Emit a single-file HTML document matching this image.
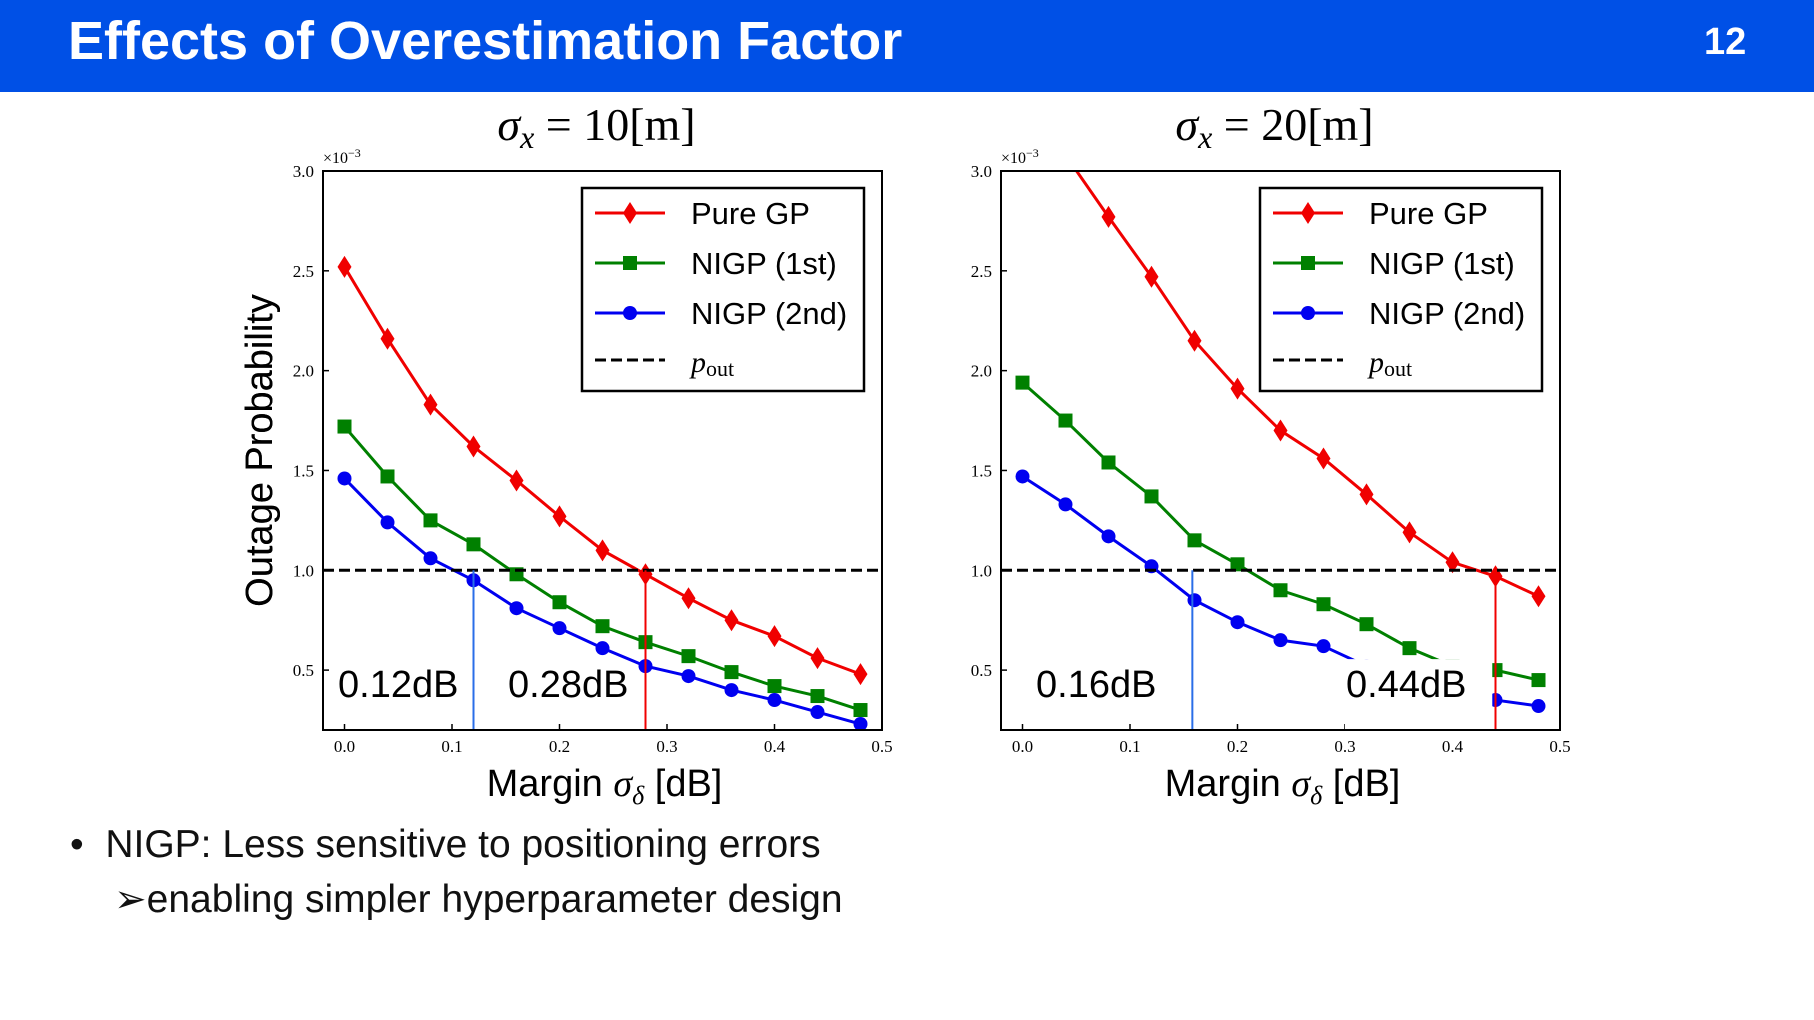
<!DOCTYPE html>
<html><head><meta charset="utf-8"><style>
body{margin:0;width:1814px;height:1020px;background:#fff;overflow:hidden;font-family:"Liberation Sans",sans-serif;position:relative}
#hdr{position:absolute;left:0;top:0;width:1814px;height:92px;background:#0050e6}
#ttl{position:absolute;left:68px;top:9px;color:#fff;font-weight:bold;font-size:54px;line-height:64px}
#num{position:absolute;left:1704px;top:18px;color:#fff;font-weight:bold;font-size:38px;line-height:48px}
.b{position:absolute;font-size:39px;color:#111;line-height:44px}
</style></head><body>
<div id="hdr"></div>
<div id="ttl">Effects of Overestimation Factor</div>
<div id="num">12</div>
<svg id="svg" width="1814" height="1020" style="position:absolute;left:0;top:0"></svg>
<div class="b" style="left:70px;top:823px">•&nbsp;&nbsp;NIGP: Less sensitive to positioning errors</div>
<div class="b" style="left:114px;top:878px">➢enabling simpler hyperparameter design</div>
<script>
const xs=[0,0.04,0.08,0.12,0.16,0.2,0.24,0.28,0.32,0.36,0.4,0.44,0.48];
const red1=[2.52,2.16,1.83,1.62,1.45,1.27,1.10,0.98,0.86,0.75,0.67,0.56,0.48];
const green1=[1.72,1.47,1.25,1.13,0.98,0.84,0.72,0.64,0.57,0.49,0.42,0.37,0.30];
const blue1=[1.46,1.24,1.06,0.95,0.81,0.71,0.61,0.52,0.47,0.40,0.35,0.29,0.23];
const red2=[3.4,3.08,2.77,2.47,2.15,1.91,1.70,1.56,1.38,1.19,1.04,0.97,0.87];
const green2=[1.94,1.75,1.54,1.37,1.15,1.03,0.90,0.83,0.73,0.61,0.52,0.50,0.45];
const blue2=[1.47,1.33,1.17,1.02,0.85,0.74,0.65,0.62,0.52,0.46,0.40,0.35,0.32];
const xTicks=[0,0.1,0.2,0.3,0.4,0.5];
const xTickLabels=["0.0","0.1","0.2","0.3","0.4","0.5"];
const yTicks=[0.5,1.0,1.5,2.0,2.5,3.0];
const yTickLabels=["0.5","1.0","1.5","2.0","2.5","3.0"];
const pOut=1.0;
const marks1=[0.12,0.28];
const marks2=[0.158,0.44];
const labels1=["0.12dB","0.28dB"];
const labels2=["0.16dB","0.44dB"];

const svg=document.getElementById('svg');
const NS='http://www.w3.org/2000/svg';
function mk(t,a,p){const e=document.createElementNS(NS,t);for(const k in a)e.setAttribute(k,a[k]);(p||svg).appendChild(e);return e;}

function chart(ox,id,title,red,green,blue,marks,labels,occlude){
  const L=ox,R=ox+559,T=171,B=730;
  const xmin=-0.02,xmax=0.5,ymin=0.2,ymax=3.0;
  const X=v=>L+(v-xmin)/(xmax-xmin)*(R-L);
  const Y=v=>B-(v-ymin)/(ymax-ymin)*(B-T);
  const g=mk('g',{});
  
  
  const cp=mk('clipPath',{id:'cp'+id},g);mk('rect',{x:L,y:T,width:R-L,height:B-T},cp);
  let t=mk('text',{x:(L+R)/2-6,y:140,'text-anchor':'middle','font-family':'Liberation Serif,serif','font-size':46},g);
  t.innerHTML='<tspan font-style="italic">σ</tspan><tspan font-style="italic" font-size="32" dy="8">x</tspan><tspan dy="-8"> = 10[m]</tspan>'.replace('10',title);
  
  t=mk('text',{x:0,y:0,transform:`translate(272,${(T+B)/2}) rotate(-90)`,'text-anchor':'middle','font-size':38},g);
  t.textContent='Outage Probability';
  
  t=mk('text',{x:(L+R)/2+2,y:796,'text-anchor':'middle','font-size':38},g);
  t.innerHTML='Margin <tspan font-family="Liberation Serif,serif" font-style="italic">σ</tspan><tspan font-family="Liberation Serif,serif" font-style="italic" font-size="26" dy="8">δ</tspan><tspan dy="-8"> [dB]</tspan>';
  
  t=mk('text',{x:L,y:163,'font-family':'Liberation Serif,serif','font-size':16},g);
  t.innerHTML='×10<tspan font-size="12" dy="-6">−3</tspan>';
  
  xTicks.forEach((v,i)=>{mk('line',{x1:X(v),x2:X(v),y1:B,y2:B-6,stroke:'#000','stroke-width':1.5},g);
    const tt=mk('text',{x:X(v),y:752,'text-anchor':'middle','font-family':'Liberation Serif,serif','font-size':17},g);tt.textContent=xTickLabels[i];
    });
  yTicks.forEach((v,i)=>{mk('line',{x1:L,x2:L+6,y1:Y(v),y2:Y(v),stroke:'#000','stroke-width':1.5},g);
    const tt=mk('text',{x:L-9,y:Y(v)+6,'text-anchor':'end','font-family':'Liberation Serif,serif','font-size':17},g);tt.textContent=yTickLabels[i];
    });
  const pg=mk('g',{'clip-path':`url(#cp${id})`},g);
  function series(vals,col,shape,name){
    const sg=mk('g',{},pg);
    
    
    mk('polyline',{points:xs.map((x,i)=>X(x)+','+Y(vals[i])).join(' '),fill:'none',stroke:col,'stroke-width':3},sg);
    xs.forEach((x,i)=>marker(sg,X(x),Y(vals[i]),col,shape));
  }
  series(red,'#f00000','d','pure-gp-line');
  series(green,'#008000','s','nigp-1st-line');
  series(blue,'#0000f0','o','nigp-2nd-line');
  if(occlude){mk('rect',{x:X(0.30),y:Y(0.555),width:X(0.437)-X(0.30),height:B-Y(0.555),fill:'#fff'},pg);}
  const dl=mk('line',{x1:L,x2:R,y1:Y(pOut),y2:Y(pOut),stroke:'#000','stroke-width':3,'stroke-dasharray':'11,5'},pg);
  
  const vcol=['#2a6ee8','#f00000'];
  marks.forEach((m,i)=>{const l=mk('line',{x1:X(m),x2:X(m),y1:Y(pOut),y2:B,stroke:vcol[i],'stroke-width':2},pg);
    });
  const lx=occlude?[L+35,L+345]:[L+15,L+185];
  labels.forEach((s,i)=>{const tt=mk('text',{x:lx[i],y:697,'font-size':38},g);tt.textContent=s;
    });
  mk('rect',{x:L,y:T,width:R-L,height:B-T,fill:'none',stroke:'#000','stroke-width':2},g);
  const lg=mk('g',{},g);
  
  
  const LX=L+259;
  mk('rect',{x:LX,y:188,width:282,height:203,fill:'#fff',stroke:'#000','stroke-width':2.5},lg);
  const ent=[['Pure GP','#f00000','d'],['NIGP (1st)','#008000','s'],['NIGP (2nd)','#0000f0','o']];
  ent.forEach((e,i)=>{const y=213+i*50;
    const eg=mk('g',{},lg);
    
    
    mk('line',{x1:LX+13,x2:LX+83,y1:y,y2:y,stroke:e[1],'stroke-width':3},eg);
    marker(eg,LX+48,y,e[1],e[2]);
    const tt=mk('text',{x:LX+109,y:y+11,'font-size':31},eg);tt.textContent=e[0];});
  const eg=mk('g',{},lg);
  
  
  mk('line',{x1:LX+13,x2:LX+83,y1:360,y2:360,stroke:'#000','stroke-width':3,'stroke-dasharray':'11,5'},eg);
  const tt=mk('text',{x:LX+109,y:372,'font-family':'Liberation Serif,serif','font-size':30},eg);
  tt.innerHTML='<tspan font-style="italic">p</tspan><tspan font-size="22" dy="4">out</tspan>';
}
function marker(p,x,y,c,s){
  if(s==='d')mk('polygon',{points:`${x},${y-11} ${x+7},${y} ${x},${y+11} ${x-7},${y}`,fill:c},p);
  else if(s==='s')mk('rect',{x:x-7,y:y-7,width:14,height:14,fill:c},p);
  else mk('circle',{cx:x,cy:y,r:7,fill:c},p);
}
chart(323,'left','10',red1,green1,blue1,marks1,labels1,false);
chart(1001,'right','20',red2,green2,blue2,marks2,labels2,true);
</script>
</body></html>
